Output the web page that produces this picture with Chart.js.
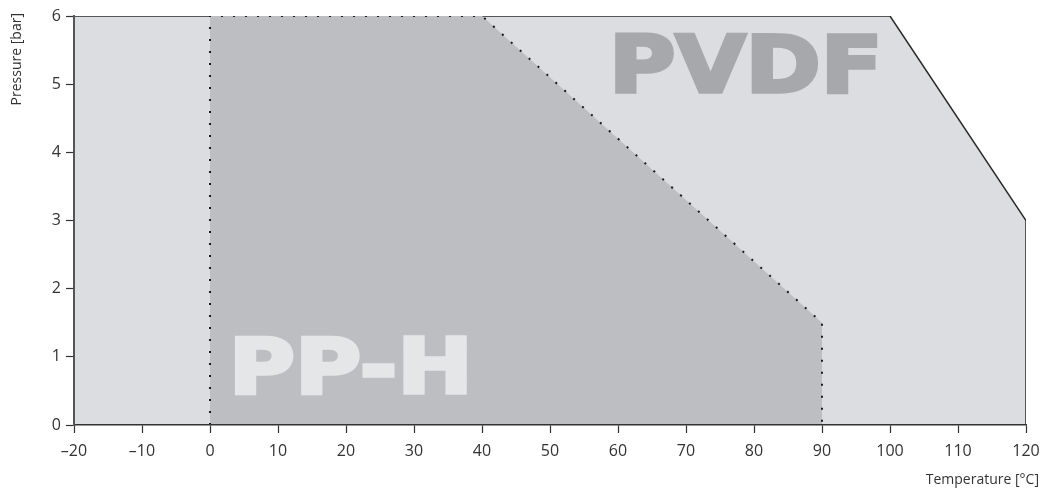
<!DOCTYPE html>
<html>
<head>
<meta charset="utf-8">
<script src="https://cdn.jsdelivr.net/npm/chart.js@4.4.1/dist/chart.umd.min.js"></script>
<style>
  html, body { margin: 0; padding: 0; background: #ffffff; }
  #wrap { width: 1056px; height: 490px; position: relative; }
</style>
</head>
<body>
<div id="wrap"><canvas id="c" width="1056" height="490"></canvas></div>
<script>
// ---- Data ----
const pvdfTemp     = [-20, -20, 100, 120, 120];
const pvdfPressure = [0, 6, 6, 3, 0];
const pphTemp      = [0, 0, 40, 90, 90];
const pphPressure  = [0, 6, 6, 1.5, 0];
const xTickValues  = [-20, -10, 0, 10, 20, 30, 40, 50, 60, 70, 80, 90, 100, 110, 120];
const yTickValues  = [0, 1, 2, 3, 4, 5, 6];
const xAxisTitle   = 'Temperature [°C]';
const yAxisTitle   = 'Pressure [bar]';
const regionNames  = ['PVDF', 'PP-H'];

const toPoints = (xs, ys) => xs.map((x, i) => ({ x: x, y: ys[i] }));
const fmtTick = v => (v < 0 ? '\u2013' + Math.abs(v) : String(v));

const LIGHT = '#dcdde0';
const DARK  = '#bdbec2';
const TEXT  = '#333333';

// label boxes in data units (left, right, baseline, capTop)
const regionLabels = [
  { text: regionNames[0], x0: 59.6, x1: 98.1, y0: 4.86, y1: 5.75, color: '#a7a8ab' },
  { text: regionNames[1], x0: 3.7,  x1: 37.8, y0: 0.44, y1: 1.32, color: '#e5e6e8' }
];

const labelPlugin = {
  id: 'regionLabels',
  afterDatasetsDraw(chart) {
    const ctx = chart.ctx, xs = chart.scales.x, ys = chart.scales.y;
    regionLabels.forEach(l => {
      const left = xs.getPixelForValue(l.x0), right = xs.getPixelForValue(l.x1);
      const base = ys.getPixelForValue(l.y0), top = ys.getPixelForValue(l.y1);
      const cap = base - top;
      const lw = cap * 0.06;
      ctx.save();
      ctx.font = 'bold 100px "DejaVu Sans"';
      const m = ctx.measureText(l.text);
      const capRef = m.actualBoundingBoxAscent;
      const size = 100 * (cap - lw) / capRef;
      ctx.font = 'bold ' + size + 'px "DejaVu Sans"';
      const m2 = ctx.measureText(l.text);
      const w = m2.actualBoundingBoxLeft + m2.actualBoundingBoxRight;
      const sx = (right - left - lw) / w;
      ctx.translate(left + lw / 2, base - lw / 2);
      ctx.scale(sx, 1);
      ctx.fillStyle = l.color;
      ctx.strokeStyle = l.color;
      ctx.lineWidth = lw;
      ctx.lineJoin = 'miter';
      ctx.miterLimit = 2;
      ctx.textBaseline = 'alphabetic';
      ctx.textAlign = 'left';
      ctx.fillText(l.text, m2.actualBoundingBoxLeft, 0);
      ctx.strokeText(l.text, m2.actualBoundingBoxLeft, 0);
      ctx.restore();
    });
  }
};

const titlePlugin = {
  id: 'axisTitles',
  afterDraw(chart) {
    const ctx = chart.ctx, a = chart.chartArea;
    ctx.save();
    ctx.fillStyle = TEXT;
    ctx.font = '14px "Open Sans"';
    ctx.textAlign = 'right';
    ctx.textBaseline = 'alphabetic';
    ctx.fillText(xAxisTitle, a.right + 13, 484);
    ctx.translate(17, a.top - 3);
    ctx.rotate(-Math.PI / 2);
    ctx.textBaseline = 'middle';
    ctx.fillText(yAxisTitle, 0, 0);
    ctx.restore();
  }
};

new Chart(document.getElementById('c'), {
  type: 'line',
  data: {
    datasets: [
      {
        label: regionNames[1],
        data: toPoints(pphTemp, pphPressure),
        backgroundColor: DARK,
        borderColor: '#1a1a1a',
        borderWidth: 2,
        borderDash: [2, 10],
        borderCapStyle: 'butt',
        fill: 'origin',
        pointRadius: 0,
        tension: 0
      },
      {
        label: 'mask',
        data: toPoints(pphTemp, pphPressure),
        borderWidth: 3,
        borderColor: 'transparent',
        segment: {
          borderColor: c => (c.p0.parsed.y === c.p1.parsed.y && c.p0.parsed.y === Math.max(...pphPressure)) ? DARK : 'transparent'
        },
        fill: false,
        pointRadius: 0
      },
      {
        label: regionNames[0],
        data: toPoints(pvdfTemp, pvdfPressure),
        backgroundColor: LIGHT,
        borderColor: '#2a2a2a',
        borderWidth: 1.5,
        segment: {
          borderColor: c => (c.p0.parsed.x === c.p1.parsed.x && c.p0.parsed.x === Math.min(...pvdfTemp)) ? 'transparent' : '#2a2a2a'
        },
        fill: 'origin',
        pointRadius: 0,
        tension: 0
      }
    ]
  },
  options: {
    responsive: false,
    animation: false,
    layout: { padding: { top: 16, right: 30, left: 0, bottom: 0 } },
    plugins: {
      legend: { display: false },
      tooltip: { enabled: false },
      filler: { drawTime: 'beforeDatasetDraw' }
    },
    scales: {
      x: {
        type: 'linear',
        min: -20, max: 120,
        afterBuildTicks: s => { s.ticks = xTickValues.map(v => ({ value: v })); },
        afterFit: s => { s.height = 65; },
        ticks: {
          callback: v => fmtTick(v),
          color: TEXT,
          font: { family: 'Open Sans', size: 16 },
          padding: 9,
          maxRotation: 0,
          autoSkip: false,
          z: 1
        },
        grid: { drawOnChartArea: false, drawTicks: true, tickLength: 8, tickColor: '#333333', tickWidth: 1.2 },
        border: { display: true, color: '#333333', width: 1.5, z: 1 }
      },
      y: {
        type: 'linear',
        min: 0, max: 6,
        afterBuildTicks: s => { s.ticks = yTickValues.map(v => ({ value: v })); },
        afterFit: s => { s.width = 74; },
        ticks: {
          color: TEXT,
          font: { family: 'Open Sans', size: 16 },
          padding: 5,
          z: 1
        },
        grid: { drawOnChartArea: false, drawTicks: true, tickLength: 8, tickColor: '#333333', tickWidth: 1.2 },
        border: { display: true, color: '#555555', width: 2, z: 1 }
      }
    }
  },
  plugins: [labelPlugin, titlePlugin]
});
</script>
</body>
</html>
